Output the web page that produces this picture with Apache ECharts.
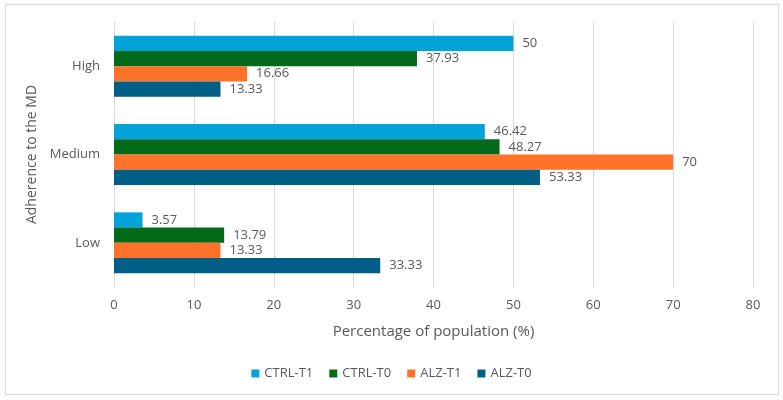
<!DOCTYPE html>
<html>
<head>
<meta charset="utf-8">
<script src="https://cdn.jsdelivr.net/npm/echarts@6/dist/echarts.min.js"></script>
<style>
  html, body { margin: 0; padding: 0; background: #fff; }
  #app { width: 783px; height: 400px; }
</style>
</head>
<body>
<div id="app"></div>
<script>
// adherence levels, bottom to top
const categories = ["Low", "Medium", "High"];
const seriesNames = ["CTRL-T1", "CTRL-T0", "ALZ-T1", "ALZ-T0"];
const ctrlT1 = [3.57, 46.42, 50];
const ctrlT0 = [13.79, 48.27, 37.93];
const alzT1 = [13.33, 70, 16.66];
const alzT0 = [33.33, 53.33, 13.33];
const colors = ["#02a3d9", "#036a1a", "#fe7229", "#015e86"];

const values = [ctrlT1, ctrlT0, alzT1, alzT0];
const font = "Open Sans";

const chart = echarts.init(document.getElementById("app"));

chart.setOption({
  animation: false,
  textStyle: { fontFamily: font },
  graphic: [
    {
      type: "rect",
      shape: { x: 5.5, y: 4.5, width: 773, height: 390 },
      style: { fill: "none", stroke: "#d9d9d9", lineWidth: 1 },
    },
  ],
  grid: { left: 114, right: 30, top: 22, bottom: 113 },
  legend: {
    data: seriesNames,
    bottom: 15,
    left: "center",
    icon: "rect",
    itemWidth: 8,
    itemHeight: 8,
    itemGap: 16,
    textStyle: { fontFamily: font, fontSize: 13, color: "#595959" },
  },
  xAxis: {
    type: "value",
    min: 0,
    max: 80,
    interval: 10,
    name: "Percentage of population (%)",
    nameLocation: "middle",
    nameGap: 37,
    nameTextStyle: { fontFamily: font, fontSize: 15, color: "#595959" },
    axisLine: { show: false },
    axisTick: { show: false },
    axisLabel: { color: "#595959", fontSize: 13, margin: 12 },
    splitLine: { lineStyle: { color: "#d9d9d9" } },
  },
  yAxis: {
    type: "category",
    data: categories,
    name: "Adherence to the MD",
    nameLocation: "middle",
    nameGap: 72,
    nameTextStyle: { fontFamily: font, fontSize: 14, color: "#595959" },
    axisLine: { show: false },
    axisTick: { show: false },
    axisLabel: { color: "#595959", fontSize: 13, margin: 14 },
  },
  series: seriesNames.map((name, i) => ({
    name,
    type: "bar",
    data: values[i],
    barGap: "0%",
    barCategoryGap: "31%",
    itemStyle: { color: colors[i] },
    label: {
      show: true,
      position: "right",
      distance: 9,
      color: "#595959",
      fontSize: 13,
      fontFamily: font,
    },
  })),
});
</script>
</body>
</html>
